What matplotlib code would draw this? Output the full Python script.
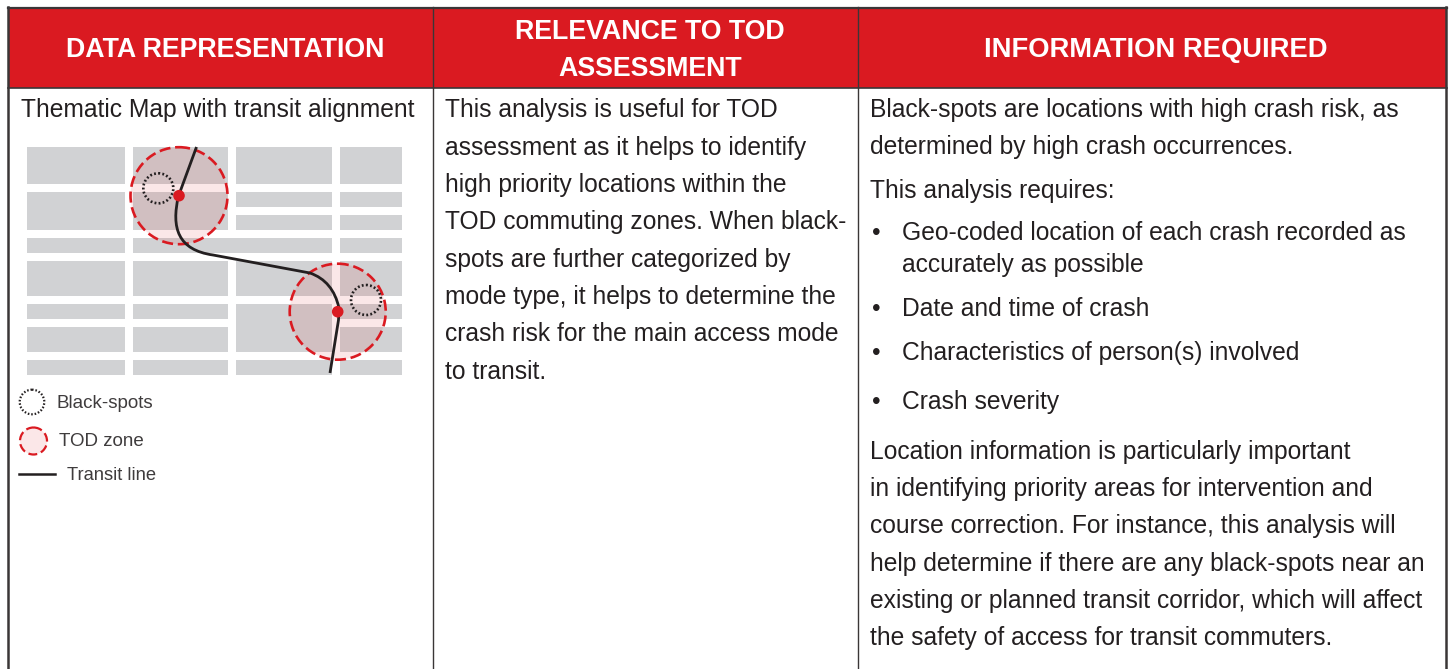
import matplotlib
matplotlib.use("Agg")
import matplotlib.pyplot as plt
from matplotlib.patches import Circle, PathPatch, Rectangle
from matplotlib.path import Path

plt.rcParams["font.family"] = ["Liberation Sans", "DejaVu Sans"]

RED = "#da1a21"
DARK = "#231f20"
GREY = "#d1d2d4"
RULE = "#3a3637"

# Table text
headers = [
    ("DATA REPRESENTATION", 225, 47),
    ("RELEVANCE TO TOD", 650, 29),
    ("ASSESSMENT", 650, 66),
    ("INFORMATION REQUIRED", 1156, 47),
]
header_sizes = [19.3, 19.3, 19.3, 19.7]
col1_title = "Thematic Map with transit alignment"
col2_lines = [
    "This analysis is useful for TOD",
    "assessment as it helps to identify",
    "high priority locations within the",
    "TOD commuting zones. When black-",
    "spots are further categorized by",
    "mode type, it helps to determine the",
    "crash risk for the main access mode",
    "to transit.",
]
col2_y = [109, 147, 184, 221, 259, 296, 333, 371]
col3_lines = [
    ("Black-spots are locations with high crash risk, as", 109),
    ("determined by high crash occurrences.", 146),
    ("This analysis requires:", 190),
    ("Location information is particularly important", 451),
    ("in identifying priority areas for intervention and", 488),
    ("course correction. For instance, this analysis will", 525),
    ("help determine if there are any black-spots near an", 563),
    ("existing or planned transit corridor, which will affect", 600),
    ("the safety of access for transit commuters.", 637),
]
bullet_lines = [
    ("Geo-coded location of each crash recorded as", 232, True),
    ("accurately as possible", 264, False),
    ("Date and time of crash", 308, True),
    ("Characteristics of person(s) involved", 352, True),
    ("Crash severity", 401, True),
]

# Map blocks: x0, x1, y0, y1
blocks = [
    (27, 125, 147, 184), (133, 228, 147, 184), (236.5, 332, 147, 184), (340, 402, 147, 184),
    (27, 125, 192, 230), (133, 228, 192, 230), (236.5, 332, 192, 207), (340, 402, 192, 207),
    (236.5, 332, 215, 230), (340, 402, 215, 230),
    (27, 125, 238, 253), (133, 332, 238, 253), (340, 402, 238, 253),
    (27, 125, 261, 296), (133, 228, 261, 296), (236.5, 332, 261, 296), (340, 402, 261, 296),
    (27, 125, 304, 319), (133, 228, 304, 319), (236.5, 332, 304, 352), (340, 402, 304, 319),
    (27, 125, 327, 352), (133, 228, 327, 352), (340, 402, 327, 352),
    (27, 125, 360, 375), (133, 228, 360, 375), (236.5, 332, 360, 375), (340, 402, 360, 375),
]
tod_zones = [(179, 195.7, 48.5), (337.7, 311.7, 48)]
black_spots = [(158.3, 188.3, 15), (366, 300, 15)]
stations = [(179, 195.7), (337.7, 311.7)]

# Transit line, control points of the curve
line_verts = [
    (196.5, 147), (178.5, 196), (171, 228), (178, 250), (213, 255),
    (310, 273), (333, 281), (339, 308), (338.5, 320), (330, 373),
]
line_codes = [
    Path.MOVETO, Path.LINETO, Path.CURVE4, Path.CURVE4, Path.CURVE4,
    Path.LINETO, Path.CURVE3, Path.CURVE3, Path.LINETO, Path.LINETO,
]

fig = plt.figure(figsize=(14.5, 6.69), dpi=100)
ax = fig.add_axes([0, 0, 1, 1])
ax.set_xlim(0, 1450)
ax.set_ylim(669, 0)
ax.axis("off")

# Header band and table rules
ax.add_patch(Rectangle((8, 7), 1439, 81, fc=RED, ec="none", zorder=1))
ax.plot([8.5, 8.5], [7, 669], color=RULE, lw=1.8, zorder=3)
ax.plot([1446.5, 1446.5], [7, 669], color=RULE, lw=1.8, zorder=3)
ax.plot([8, 1447], [7.5, 7.5], color=RULE, lw=1.6, zorder=3)
ax.plot([8, 1447], [87.8, 87.8], color=RULE, lw=1.2, zorder=3)
ax.plot([433.5, 433.5], [7, 669], color=RULE, lw=1.0, zorder=3)
ax.plot([858.3, 858.3], [7, 669], color=RULE, lw=1.0, zorder=3)

for (label, x, y), size in zip(headers, header_sizes):
    ax.text(x, y, label, color="white", fontsize=size, fontweight="bold",
            ha="center", va="center_baseline")

BODY = 17.7
UP = 1.5  # body text sits a little high of the nominal row
ax.text(21, 109 - UP, col1_title, color=DARK, fontsize=BODY, va="center_baseline")

for y, line in zip(col2_y, col2_lines):
    ax.text(445, y - UP, line, color=DARK, fontsize=BODY, va="center_baseline")

for line, y in col3_lines:
    ax.text(870, y - UP, line, color=DARK, fontsize=BODY, va="center_baseline")
for line, y, has_bullet in bullet_lines:
    if has_bullet:
        ax.text(872, y - UP, "\u2022", color=DARK, fontsize=BODY, va="center_baseline")
    ax.text(902, y - UP, line, color=DARK, fontsize=BODY, va="center_baseline")

# Map
for x0, x1, y0, y1 in blocks:
    ax.add_patch(Rectangle((x0, y0), x1 - x0, y1 - y0, fc=GREY, ec="none", zorder=2))
for x, y, r in tod_zones:
    ax.add_patch(Circle((x, y), r, fc=RED, alpha=0.1, ec="none", zorder=3))
    ax.add_patch(Circle((x, y), r, fc="none", ec=RED, lw=1.9, ls=(0, (4.2, 1.8)), zorder=4))
for x, y, r in black_spots:
    ax.add_patch(Circle((x, y), r, fc="none", ec=DARK, lw=1.9, ls=(0, (0.7, 0.85)), zorder=4))
ax.add_patch(PathPatch(Path(line_verts, line_codes), fc="none", ec=DARK, lw=2.0, zorder=5))
for x, y in stations:
    ax.add_patch(Circle((x, y), 5.8, fc=RED, ec="none", zorder=6))

# Legend
ax.add_patch(Circle((32, 402), 12.3, fc="none", ec=DARK, lw=1.6, ls=(0, (0.7, 0.85)), zorder=4))
ax.add_patch(Circle((33.5, 441), 13.5, fc=RED, alpha=0.1, ec="none", zorder=3))
ax.add_patch(Circle((33.5, 441), 13.5, fc="none", ec=RED, lw=1.6, ls=(0, (4, 1.8)), zorder=4))
ax.plot([19, 55], [474, 474], color=DARK, lw=1.8, zorder=4)
ax.text(57, 402, "Black-spots", color="#3f3c3d", fontsize=13.5, va="center_baseline")
ax.text(59, 440, "TOD zone", color="#3f3c3d", fontsize=13.5, va="center_baseline")
ax.text(67, 474, "Transit line", color="#3f3c3d", fontsize=13.2, va="center_baseline")

fig.savefig("out.png", dpi=100)
